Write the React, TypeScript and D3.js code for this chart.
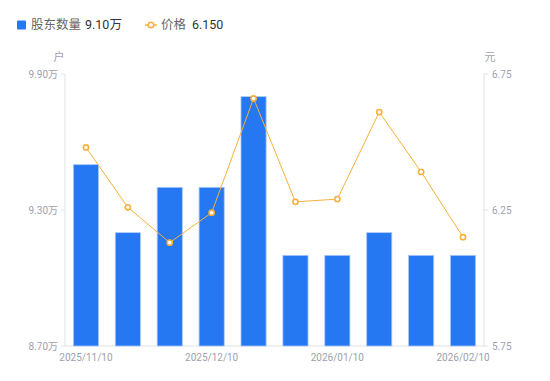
import React from "react";
import * as d3 from "d3";

const categories = ["2025/11/10","2025/11/20","2025/11/30","2025/12/10","2025/12/20","2025/12/31","2026/01/10","2026/01/20","2026/01/31","2026/02/10"];
const holders = [9.50, 9.20, 9.40, 9.40, 9.80, 9.10, 9.10, 9.20, 9.10, 9.10];
const prices = [6.48, 6.26, 6.13, 6.24, 6.66, 6.28, 6.29, 6.61, 6.39, 6.15];
const leftTicks = [8.70, 9.30, 9.90];
const rightTicks = [5.75, 6.25, 6.75];
const xTickLabels = ["2025/11/10","2025/12/10","2026/01/10","2026/02/10"];

const W = 550, H = 381;
const M = { left: 65, right: 66, top: 74, bottom: 35 };
const FONT = "Roboto, 'Noto Sans CJK SC', sans-serif";

export default function App() {
  const x = d3.scaleBand<string>().domain(categories).range([M.left, W - M.right]).paddingInner(0.4).paddingOuter(0.2);
  const xc = d3.scaleBand<string>().domain(categories).range([M.left, W - M.right]);
  const yL = d3.scaleLinear().domain([8.70, 9.90]).range([H - M.bottom, M.top]);
  const yR = d3.scaleLinear().domain([5.75, 6.75]).range([H - M.bottom, M.top]);
  const cx = (c: string) => (xc(c) as number) + xc.bandwidth() / 2;
  const line = d3.line<number>().x((_, i) => cx(categories[i])).y((d) => yR(d));
  const baseY = H - M.bottom;
  const axisColor = "#e3e3e8";
  const tickText = "#9d9fad";

  return (
    <svg width={W} height={H} style={{ position: "absolute", left: 0, top: 0, fontFamily: FONT }}>
      {/* legend */}
      <rect x={17} y={20.5} width={9} height={9} rx={1} fill="#2677f2" />
      <text x={31} y={29} fontSize={12.5} fill="#666">股东数量</text>
      <text x={85} y={29} fontSize={12.5} fill="#333">{holders[holders.length - 1].toFixed(2)}万</text>
      <line x1={145} x2={157} y1={25} y2={25} stroke="#f7b13c" strokeWidth={1.5} />
      <circle cx={151} cy={25} r={2.8} fill="#fff" stroke="#f7b13c" strokeWidth={1.6} />
      <text x={161} y={29} fontSize={12.5} fill="#666">价格</text>
      <text x={192} y={29} fontSize={12.5} fill="#333">{prices[prices.length - 1].toFixed(3)}</text>

      {/* units */}
      <text x={59} y={61} fontSize={11} fill={tickText} textAnchor="middle">户</text>
      <text x={490} y={61} fontSize={11} fill={tickText} textAnchor="middle">元</text>

      {/* axes */}
      <line x1={M.left} x2={M.left} y1={M.top} y2={baseY} stroke={axisColor} />
      <line x1={W - M.right} x2={W - M.right} y1={M.top} y2={baseY} stroke={axisColor} />
      <line x1={M.left} x2={W - M.right} y1={baseY} y2={baseY} stroke={axisColor} />
      {leftTicks.map((t) => (
        <g key={"l" + t}>
          <line x1={M.left - 4} x2={M.left} y1={yL(t)} y2={yL(t)} stroke={axisColor} />
          <text x={M.left - 7} y={yL(t) + 3.5} fontSize={10} fill={tickText} textAnchor="end">{t.toFixed(2)}万</text>
        </g>
      ))}
      {rightTicks.map((t) => (
        <g key={"r" + t}>
          <line x1={W - M.right} x2={W - M.right + 4} y1={yR(t)} y2={yR(t)} stroke={axisColor} />
          <text x={W - M.right + 8} y={yR(t) + 3.5} fontSize={10} fill={tickText}>{t.toFixed(2)}</text>
        </g>
      ))}
      {xTickLabels.map((c) => (
        <text key={c} x={cx(c)} y={baseY + 15} fontSize={10} fill={tickText} textAnchor="middle">{c}</text>
      ))}

      {/* bars */}
      {holders.map((v, i) => (
        <rect key={i} x={x(categories[i])} y={yL(v)} width={x.bandwidth()} height={baseY - yL(v)}
          fill="#2677f2" stroke="#a9c8fa" strokeWidth={0.8} />
      ))}

      {/* line */}
      <path d={line(prices) || ""} fill="none" stroke="#f7b13c" strokeWidth={1} />
      {prices.map((v, i) => (
        <circle key={i} cx={cx(categories[i])} cy={yR(v)} r={2.6} fill="#fff" stroke="#f7b13c" strokeWidth={1.6} />
      ))}
    </svg>
  );
}
